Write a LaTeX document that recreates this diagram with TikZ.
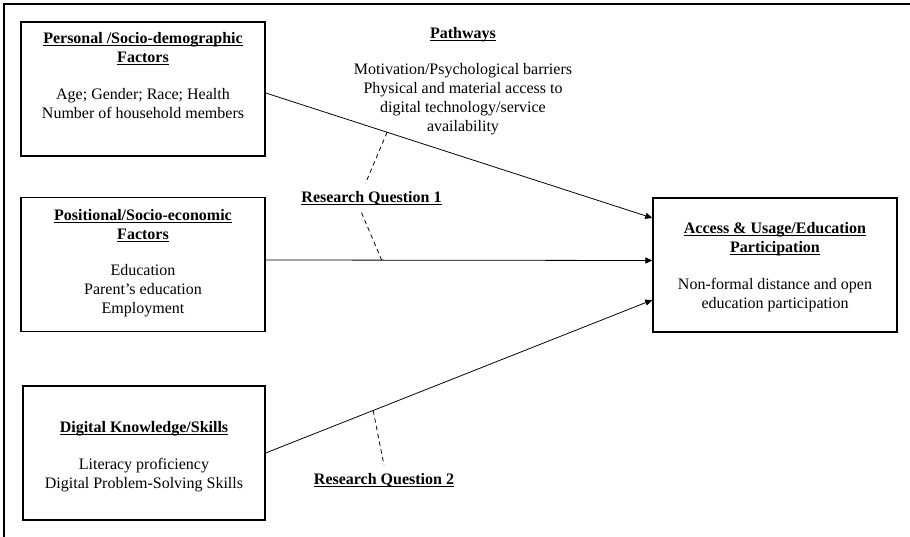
\documentclass[tikz,border=0pt]{standalone}
\usepackage{fontspec}
\setmainfont{Liberation Serif}
\usetikzlibrary{positioning,arrows.meta}
\newcommand{\hd}[1]{\setbox0\hbox{\textbf{#1}}\rlap{\rule[-1.4pt]{\wd0}{0.5pt}}\box0}

\begin{document}
\begin{tikzpicture}[
	font=\fontsize{9.1}{10.8}\selectfont,
	fbox/.style={draw,line width=0.8pt,minimum width=4.88cm,minimum height=2.68cm,inner sep=0},
	txt/.style={align=center,inner sep=0},
	arr/.style={-{Triangle[length=4pt,width=3.5pt]},line width=0.45pt},
	rq/.style={inner sep=0.15cm},
	dsh/.style={line width=0.45pt,dash pattern=on 2.5pt off 2pt}
]
	\useasboundingbox (0,0) rectangle (18.2,10.74);
	\draw[line width=0.8pt] (0.08,0) -- (0.08,10.66) -- (18.2,10.66);
	% boxes
	\node[fbox] (pers) at (2.86,8.96) {};
	\node[fbox] (posi) at (2.86,5.45) {};
	\node[fbox,minimum width=4.84cm] (digi) at (2.88,1.68) {};
	\node[fbox] (acc) at (15.5,5.44) {};
	% box texts
	\node[txt,below=0.22 of pers.north] (perst) {\hd{Personal /Socio-demographic}\\\hd{Factors}\\[10pt]
		Age; Gender; Race; Health\\Number of household members};
	\node[txt,below=0.24 of posi.north] (posit) {\hd{Positional/Socio-economic}\\\hd{Factors}\\[10pt]
		Education\\Parent’s education\\Employment};
	\node[txt,below=0.72 of digi.north] (digit) {\hd{Digital Knowledge/Skills}\\[10pt]
		Literacy proficiency\\Digital Problem-Solving Skills};
	\node[txt,below=0.5 of acc.north] (acct) {\hd{Access \& Usage/Education}\\\hd{Participation}\\[10pt]
		Non-formal distance and open\\education participation};
	\node[txt,anchor=north] (path) at (9.26,10.2) {\hd{Pathways}\\[10pt]
		Motivation/Psychological barriers\\Physical and material access to\\digital technology/service\\availability};
	% arrows
	\draw[arr] ([yshift=-0.08cm]pers.east) -- ([yshift=0.94cm]acc.west) coordinate[pos=0.314] (q1a);
	\draw[arr] ([yshift=0.09cm]posi.east) -- ([yshift=0.09cm]acc.west) coordinate[pos=0.30] (q1b);
	\draw[arr] (digi.east) -- ([yshift=-0.70cm]acc.west) coordinate[pos=0.278] (q2a);
	% research questions
	\node[rq] (rq1) at (7.43,6.78) {\hd{Research Question 1}};
	\node[rq] (rq2) at (7.68,1.14) {\hd{Research Question 2}};
	\draw[dsh] (q1a) -- ([xshift=-0.12cm]rq1.north);
	\draw[dsh] ([xshift=-0.2cm]rq1.south) -- (q1b);
	\draw[dsh] (q2a) -- (rq2.north);
\end{tikzpicture}
\end{document}
